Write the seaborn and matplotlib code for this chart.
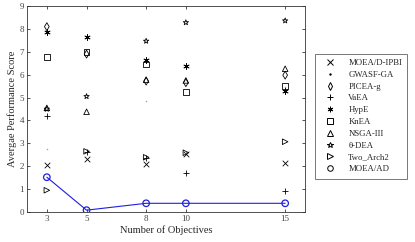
import pandas as pd
import matplotlib
matplotlib.use("Agg")
import matplotlib.pyplot as plt
import seaborn as sns
from matplotlib.lines import Line2D

# Number of objectives on the x axis
objectives = [3, 5, 8, 10, 15]

# Average performance score for each algorithm
moead_ipbi = [2.05, 2.30, 2.08, 2.55, 2.15]
gwasf_ga = [2.75, 2.60, 4.86, 2.60, 5.45]
picea_g = [8.10, 6.90, 5.72, 5.65, 5.98]
vaea = [4.20, 2.63, 2.35, 1.69, 0.92]
hype = [7.88, 7.65, 6.64, 6.39, 5.30]
knea = [6.77, 7.00, 6.45, 5.25, 5.50]
nsga_iii = [4.55, 4.38, 5.78, 5.75, 6.26]
theta_dea = [4.50, 5.05, 7.47, 8.28, 8.36]
two_arch2 = [0.95, 2.65, 2.39, 2.59, 3.07]
moea_ad = [1.52, 0.08, 0.38, 0.38, 0.38]

methods = ["MOEA/D-IPBI", "GWASF-GA", "PICEA-g", "VaEA", "HypE", "KnEA",
           "NSGA-III", "θ-DEA", "Two_Arch2", "MOEA/AD"]
scores = [moead_ipbi, gwasf_ga, picea_g, vaea, hype, knea,
          nsga_iii, theta_dea, two_arch2, moea_ad]
markers = ["x", ".", "d", "+", (6, 2, 0), "s", "^", "*", ">", "o"]

sns.set_style("ticks")
plt.rcParams["font.family"] = ["Liberation Serif", "DejaVu Serif"]

fig = plt.figure(figsize=(4.15, 2.42), dpi=100)
ax = fig.add_axes([0.065, 0.124, 0.67, 0.851])

# blue line for MOEA/AD
sns.lineplot(x=objectives, y=moea_ad, ax=ax, color="#1f1fe0", linewidth=0.8,
             legend=False)

handles = []
for name, vals, m in zip(methods, scores, markers):
    df = pd.DataFrame({"obj": objectives, "score": vals})
    is_filled = m not in ["x", "+", ".", (6, 2, 0)]
    if name == "MOEA/AD":
        sns.scatterplot(data=df, x="obj", y="score", marker=m, s=22, ax=ax,
                        facecolor="none", edgecolor="#1f1fe0", linewidth=0.9,
                        zorder=5)
    elif is_filled:
        sns.scatterplot(data=df, x="obj", y="score", marker=m, s=16, ax=ax,
                        facecolor="none", edgecolor="black", linewidth=0.6,
                        zorder=4)
    else:
        size = 5 if m == "." else 16
        sns.scatterplot(data=df, x="obj", y="score", marker=m, s=size, ax=ax,
                        color="black", linewidth=0.6, zorder=4)
    face = "black" if m == "." else "none"
    handles.append(Line2D([], [], linestyle="none", marker=m,
                          markersize=2 if m == "." else 4,
                          markerfacecolor=face, markeredgecolor="black",
                          markeredgewidth=0.7, label=name))

ax.set_xlim(2, 16)
ax.set_ylim(0, 9)
ax.set_xticks(objectives)
ax.set_yticks(range(0, 10))
ax.set_xlabel("Number of Objectives", fontsize=7.5, labelpad=2)
ax.set_ylabel("Avergae Performance Score", fontsize=7.5, labelpad=2)
ax.tick_params(direction="in", top=True, right=True, labelsize=6.5,
               length=2.5, width=0.6, pad=2, colors="#333333",
               labelcolor="#444444")
for sp in ax.spines.values():
    sp.set_linewidth(0.6)
    sp.set_color("#333333")

leg = fig.legend(handles=handles, loc="upper left",
                 bbox_to_anchor=(0.759, 0.778), fontsize=6.3,
                 frameon=True, fancybox=False, edgecolor="#555555",
                 handletextpad=1.0, labelspacing=0.42, borderpad=0.6,
                 handlelength=2.2, borderaxespad=0)
leg.get_frame().set_linewidth(0.7)

fig.savefig("out.png", dpi=100)
